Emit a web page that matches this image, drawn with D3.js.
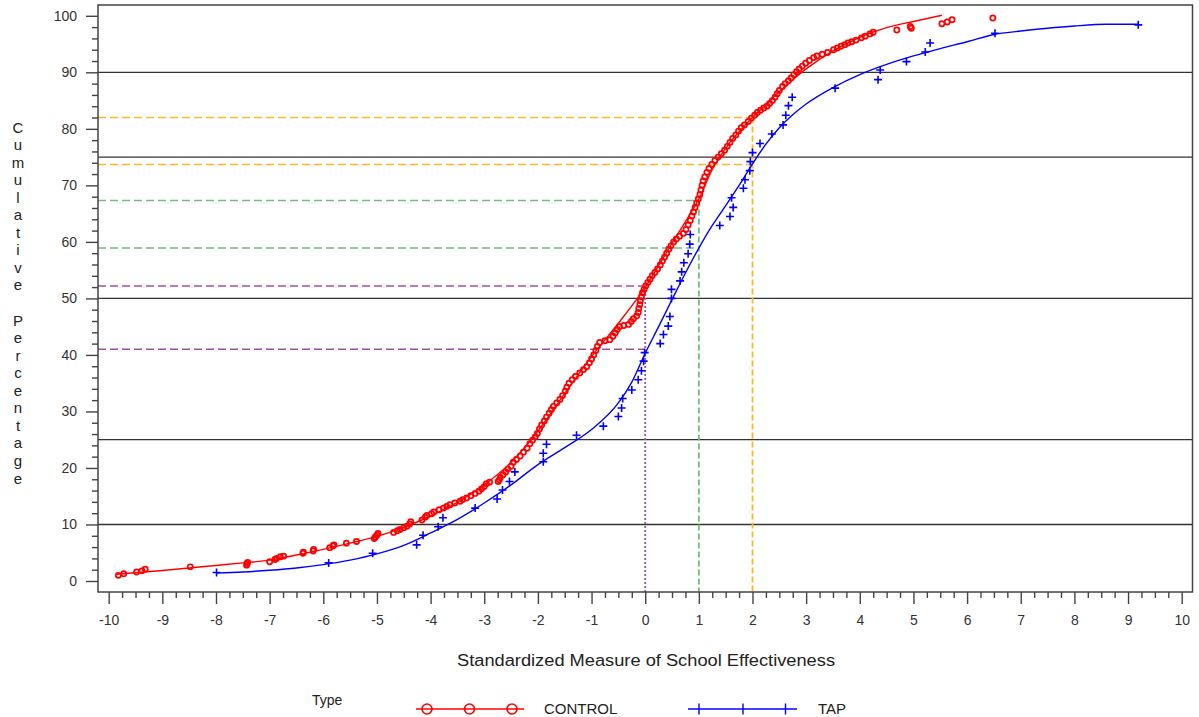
<!DOCTYPE html>
<html>
<head>
<meta charset="utf-8">
<script src="https://cdn.jsdelivr.net/npm/d3@7/dist/d3.min.js"></script>
<style>
  html, body { margin: 0; padding: 0; background: #fff; }
  svg { display: block; font-family: "Liberation Sans", Arial, sans-serif; }
</style>
</head>
<body>
<svg id="chart" width="1199" height="717"></svg>
<script>
// ---------------- DATA ----------------
const xTickLabels = [-10,-9,-8,-7,-6,-5,-4,-3,-2,-1,0,1,2,3,4,5,6,7,8,9,10];
const yTickLabels = [0,10,20,30,40,50,60,70,80,90,100];
const refLines = [10,25,50,75,90];

const markerX   = [0, 1, 2];
const controlAt = [52.2, 67.3, 82.0];
const tapAt     = [41.0, 58.9, 73.7];
const markerColors = ["#a24ea8", "#6fbf7c", "#fdb62f"];

const seriesNames = ["CONTROL", "TAP"];

const controlPoints = [
  [-9.82,1.0],[-9.72,1.3],[-9.48,1.6],[-9.38,1.8],[-9.32,2.1],[-8.48,2.5],[-7.43,2.8],[-7.42,3.1],[-7.41,3.3],
  [-7.0,3.4],[-6.9,3.8],[-6.87,4.0],[-6.8,4.3],[-6.74,4.4],[-6.38,4.9],[-6.37,5.1],[-6.19,5.3],[-6.18,5.6],
  [-5.88,5.9],[-5.82,6.2],[-5.8,6.4],[-5.57,6.7],[-5.38,7.0],[-5.05,7.5],[-5.03,7.8],[-5.0,8.1],[-4.98,8.4],
  [-4.69,8.6],[-4.62,8.9],[-4.57,9.1],[-4.5,9.4],[-4.44,9.7],[-4.39,10.1],[-4.37,10.5],[-4.16,10.8],[-4.1,11.3],
  [-4.07,11.6],[-3.98,11.9],[-3.94,12.2],[-3.84,12.6],[-3.76,12.9],[-3.7,13.2],[-3.64,13.5],[-3.55,13.8],
  [-3.45,14.1],[-3.4,14.4],[-3.33,14.7],[-3.25,15.1],[-3.17,15.5],[-3.1,15.9],[-3.05,16.3],[-3.0,16.7],
  [-2.96,17.2],[-2.9,17.5],[-2.74,17.6],[-2.72,17.9],[-2.7,18.3],[-2.65,18.8],[-2.6,19.3],[-2.56,19.8],
  [-2.5,20.3],[-2.46,21.0],[-2.4,21.5],[-2.33,22.1],[-2.27,22.8],[-2.2,23.5],[-2.15,24.3],[-2.1,24.9],
  [-2.05,25.5],[-2.01,26.1],[-1.97,26.9],[-1.93,27.6],[-1.88,28.3],[-1.84,29.0],[-1.79,29.7],[-1.75,30.3],
  [-1.71,30.9],[-1.65,31.5],[-1.59,32.1],[-1.54,32.8],[-1.49,33.6],[-1.46,34.3],[-1.42,35.0],[-1.36,35.6],
  [-1.3,36.2],[-1.22,36.8],[-1.15,37.4],[-1.09,37.9],[-1.04,38.6],[-1.0,39.3],[-0.96,40.0],[-0.92,40.8],
  [-0.89,41.5],[-0.85,42.2],[-0.75,42.5],[-0.66,42.7],[-0.6,43.3],[-0.56,43.9],[-0.52,44.5],[-0.48,45.0],
  [-0.4,45.2],[-0.31,45.4],[-0.26,45.9],[-0.22,46.4],[-0.16,46.9],[-0.13,47.5],[-0.12,48.2],[-0.1,48.9],
  [-0.09,49.6],[-0.07,50.3],[-0.05,51.0],[-0.02,51.6],[0.01,52.2],[0.05,52.8],[0.09,53.4],[0.13,54.0],
  [0.18,54.6],[0.23,55.2],[0.28,55.9],[0.32,56.6],[0.36,57.3],[0.4,58.0],[0.44,58.7],[0.48,59.3],
  [0.53,60.0],[0.58,60.5],[0.64,61.0],[0.71,61.5],[0.76,62.2],[0.8,63.0],[0.84,63.8],[0.87,64.6],
  [0.9,65.3],[0.93,66.1],[0.96,66.9],[0.99,67.6],[1.02,68.4],[1.04,69.2],[1.06,70.0],[1.08,70.8],
  [1.11,71.5],[1.15,72.3],[1.19,73.0],[1.24,73.7],[1.3,74.4],[1.36,75.0],[1.42,75.6],[1.48,76.2],
  [1.53,76.9],[1.58,77.6],[1.63,78.3],[1.69,78.9],[1.74,79.6],[1.79,80.2],[1.85,80.7],[1.92,81.3],
  [1.98,81.9],[2.04,82.4],[2.09,82.9],[2.15,83.3],[2.21,83.7],[2.27,84.0],[2.32,84.5],[2.37,85.0],
  [2.42,85.6],[2.46,86.2],[2.5,86.8],[2.56,87.5],[2.61,88.0],[2.67,88.5],[2.72,89.0],[2.77,89.6],
  [2.82,90.1],[2.87,90.6],[2.93,91.1],[2.99,91.6],[3.06,92.1],[3.14,92.6],[3.2,92.9],[3.3,93.2],
  [3.4,93.5],[3.51,94.0],[3.58,94.3],[3.65,94.6],[3.72,94.9],[3.78,95.2],[3.85,95.4],[3.93,95.7],
  [4.03,96.1],[4.1,96.4],[4.19,96.8],[4.25,97.1],[4.69,97.5],[4.94,98.1],[4.96,97.8],[5.53,98.6],
  [5.63,98.9],[5.72,99.3],[6.48,99.6]
];

const tapPoints = [
  [-7.99,1.5],[-5.9,3.2],[-5.08,4.9],[-4.26,6.4],[-4.14,8.1],[-3.86,9.6],[-3.77,11.2],[-3.17,12.9],
  [-2.76,14.5],[-2.66,16.1],[-2.53,17.6],[-2.43,19.3],[-1.9,21.1],[-1.9,22.6],[-1.84,24.2],[-1.28,25.8],
  [-0.78,27.4],[-0.5,29.1],[-0.44,30.6],[-0.42,32.3],[-0.25,33.8],[-0.13,35.6],[-0.07,37.2],[-0.03,38.9],
  [-0.01,40.4],[0.28,42.0],[0.34,43.6],[0.43,45.1],[0.46,46.8],[0.49,50.0],[0.49,51.6],[0.65,53.1],
  [0.68,54.7],[0.72,56.3],[0.8,57.9],[0.83,59.6],[0.84,61.3],[1.39,62.9],[1.58,64.5],[1.64,66.1],
  [1.61,67.8],[1.83,69.5],[1.86,71.0],[1.95,72.6],[1.96,74.2],[2.0,75.8],[2.14,77.4],[2.36,79.1],
  [2.57,80.7],[2.62,82.4],[2.67,84.1],[2.74,85.6],[3.54,87.2],[4.34,88.7],[4.38,90.4],[4.87,91.9],
  [5.22,93.6],[5.31,95.2],[6.52,96.9],[9.19,98.4]
];

const controlFit = [
  [-9.85,1.2],[-9.0,1.85],[-8.5,2.3],[-8.0,2.75],[-7.5,3.2],[-7.0,3.7],[-6.5,4.6],[-6.0,5.6],[-5.5,6.7],
  [-5.0,7.9],[-4.5,9.5],[-4.0,11.5],[-3.5,13.9],[-3.0,17.0],[-2.5,21.0],[-2.0,26.5],[-1.5,33.2],
  [-1.0,39.7],[-0.5,45.6],[0.0,52.0],[0.25,55.8],[0.5,59.8],[0.75,63.6],[1.0,67.6],[1.25,72.8],
  [1.5,76.6],[1.75,79.5],[2.0,82.0],[2.25,84.3],[2.5,86.6],[2.75,88.7],[3.0,90.6],[3.5,93.8],
  [4.0,96.2],[4.5,97.9],[5.0,99.0],[5.53,100.1]
];

const tapFit = [
  [-8.0,1.4],[-7.5,1.6],[-7.0,1.9],[-6.5,2.3],[-6.0,2.9],[-5.5,3.7],[-5.0,4.8],[-4.5,6.3],[-4.0,8.5],
  [-3.5,10.9],[-3.0,13.8],[-2.5,17.0],[-2.0,20.6],[-1.5,23.6],[-1.0,26.8],[-0.5,31.5],[-0.25,35.2],
  [0.0,40.3],[0.25,45.0],[0.5,49.8],[0.75,54.5],[1.0,58.9],[1.25,62.9],[1.5,66.4],[1.75,70.0],
  [2.0,73.8],[2.25,77.3],[2.5,80.2],[2.75,82.5],[3.0,84.4],[3.5,87.3],[4.0,89.6],[4.5,91.4],
  [5.0,92.9],[5.5,94.2],[6.0,95.4],[6.5,96.7],[7.0,97.3],[7.5,97.8],[8.0,98.2],[8.6,98.5],[9.19,98.5]
];

// ---------------- LAYOUT ----------------
const RED = "#ff0000", BLUE = "#0000ff", AXIS = "#444";
const frame = {left: 98, right: 1192.5, top: 5, bottom: 592};

const svg = d3.select("#chart");
const x = d3.scaleLinear().domain([-10, 10]).range([108.7, 1181.7]);
const y = d3.scaleLinear().domain([0, 100]).range([581, 15.8]);

// reference horizontal lines
svg.append("g").selectAll("line").data(refLines).join("line")
  .attr("x1", frame.left).attr("x2", frame.right)
  .attr("y1", d => y(d)).attr("y2", d => y(d))
  .attr("stroke", "#333").attr("stroke-width", 1.3);

// dashed crosshair lines
const cross = svg.append("g");
markerX.forEach((mx, i) => {
  const c = markerColors[i];
  [controlAt[i], tapAt[i]].forEach(v => {
    cross.append("line")
      .attr("x1", frame.left).attr("x2", x(mx))
      .attr("y1", y(v)).attr("y2", y(v))
      .attr("stroke", c).attr("stroke-width", 1.5)
      .attr("stroke-dasharray", "8,4");
  });
  cross.append("line")
    .attr("x1", x(mx)).attr("x2", x(mx))
    .attr("y1", y(controlAt[i])).attr("y2", frame.bottom)
    .attr("stroke", c).attr("stroke-width", 1.8)
    .attr("stroke-dasharray", i === 0 ? "2,2" : "6,3");
});

// frame
svg.append("rect")
  .attr("x", frame.left).attr("y", frame.top)
  .attr("width", frame.right - frame.left).attr("height", frame.bottom - frame.top)
  .attr("fill", "none").attr("stroke", AXIS).attr("stroke-width", 1.5);

// axes
function styleAxis(g) {
  g.select(".domain").remove();
  g.selectAll(".tick line").attr("stroke", AXIS).attr("stroke-width", 1.4);
  g.selectAll("text").attr("fill", "#333").style("font-size", "14px")
    .style("font-family", "'Liberation Sans', Arial, sans-serif");
}
const plainFormat = d => String(d);
const yMinor = d3.range(0, 101, 2).filter(v => v % 10 !== 0);
svg.append("g").attr("transform", `translate(${frame.left},0)`)
  .call(d3.axisLeft(y).tickValues(yMinor).tickSize(6).tickFormat(""))
  .call(styleAxis);
svg.append("g").attr("transform", `translate(${frame.left},0)`)
  .call(d3.axisLeft(y).tickValues(yTickLabels).tickSize(12).tickPadding(9).tickFormat(plainFormat))
  .call(styleAxis);

const xMinor = d3.range(-40, 41).map(v => v / 4).filter(v => !Number.isInteger(v));
svg.append("g").attr("transform", `translate(0,${frame.bottom})`)
  .call(d3.axisBottom(x).tickValues(xMinor).tickSize(6).tickFormat(""))
  .call(styleAxis);
svg.append("g").attr("transform", `translate(0,${frame.bottom})`)
  .call(d3.axisBottom(x).tickValues(xTickLabels).tickSize(12).tickPadding(11).tickFormat(plainFormat))
  .call(styleAxis);

// axis titles
svg.append("text")
  .attr("x", 646).attr("y", 666)
  .attr("text-anchor", "middle")
  .attr("textLength", 378).attr("lengthAdjust", "spacingAndGlyphs")
  .style("font-size", "16px").attr("fill", "#222")
  .text("Standardized Measure of School Effectiveness");

const yTitle = "Cumulative Percentage".split("");
svg.append("g").selectAll("text").data(yTitle).join("text")
  .attr("x", 18).attr("y", (d, i) => 127 + i * 17.55)
  .attr("text-anchor", "middle").attr("dominant-baseline", "central")
  .style("font-size", "15px").attr("fill", "#222")
  .text(d => d);

// fitted curves
const line = d3.line().x(d => x(d[0])).y(d => y(d[1])).curve(d3.curveMonotoneX);
svg.append("path").datum(tapFit).attr("d", line)
  .attr("fill", "none").attr("stroke", BLUE).attr("stroke-width", 1.4);
svg.append("path").datum(controlFit).attr("d", line)
  .attr("fill", "none").attr("stroke", RED).attr("stroke-width", 1.4);

// points
svg.append("g").selectAll("path").data(tapPoints).join("path")
  .attr("d", d => { const px = x(d[0]), py = y(d[1]);
    return `M${px-4},${py}H${px+4}M${px},${py-4}V${py+4}`; })
  .attr("stroke", BLUE).attr("stroke-width", 1.6).attr("fill", "none");

svg.append("g").selectAll("circle").data(controlPoints).join("circle")
  .attr("cx", d => x(d[0])).attr("cy", d => y(d[1])).attr("r", 2.6)
  .attr("fill", "none").attr("stroke", RED).attr("stroke-width", 1.7);

// legend
const lg = svg.append("g").style("font-family", "'Liberation Sans', Arial, sans-serif");
lg.append("text").attr("x", 312).attr("y", 705).style("font-size", "14px").attr("fill", "#222").text("Type");
const ly = 709;
lg.append("line").attr("x1", 416).attr("x2", 524).attr("y1", ly).attr("y2", ly)
  .attr("stroke", RED).attr("stroke-width", 1.4);
[427, 469.5, 512].forEach(cx => lg.append("circle").attr("cx", cx).attr("cy", ly).attr("r", 5)
  .attr("fill", "none").attr("stroke", RED).attr("stroke-width", 1.6));
lg.append("text").attr("x", 544).attr("y", 714).style("font-size", "15px").attr("fill", "#222").text(seriesNames[0]);
lg.append("line").attr("x1", 688).attr("x2", 797).attr("y1", ly).attr("y2", ly)
  .attr("stroke", BLUE).attr("stroke-width", 1.4);
[699, 743, 785.5].forEach(cx => lg.append("line").attr("x1", cx).attr("x2", cx)
  .attr("y1", ly - 5.5).attr("y2", ly + 5.5).attr("stroke", BLUE).attr("stroke-width", 1.4));
lg.append("text").attr("x", 818).attr("y", 714).style("font-size", "15px").attr("fill", "#222").text(seriesNames[1]);
</script>
</body>
</html>
